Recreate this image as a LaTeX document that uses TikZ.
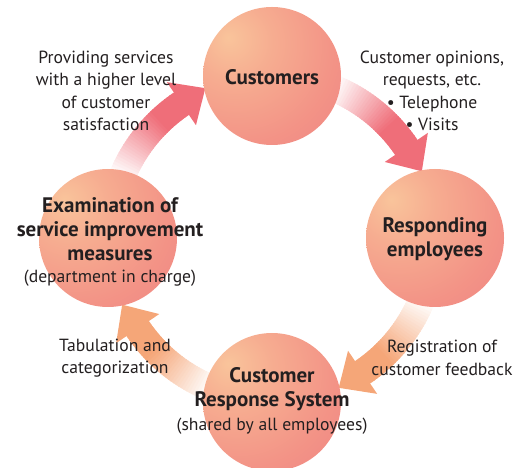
\documentclass[tikz,border=0pt]{standalone}
\usepackage{fontspec}
\setmainfont{PT Sans}
\usetikzlibrary{calc}
\definecolor{peach}{HTML}{F9C49B}
\definecolor{midc}{HTML}{F49A88}
\definecolor{edgec}{HTML}{EE7880}
\definecolor{arrpink}{HTML}{EF6E79}
\definecolor{arrorange}{HTML}{F5A678}
\definecolor{txt}{HTML}{231F20}
\pgfdeclareradialshading{nodeball}{\pgfpoint{-16bp}{14bp}}{color(0bp)=(peach); color(14bp)=(peach!45!midc); color(34bp)=(midc!80!edgec); color(62bp)=(edgec); color(120bp)=(edgec)}
\newcommand{\cyclearrow}[2]{%
  \foreach \t in {0,...,35}{%
    \pgfmathsetmacro\pp{min(100,max(0,(\t-2)*4.2))}%
    \draw[line width=27pt, color=#2!\pp!white] (C) ++(#1-\t:162pt) arc[start angle=#1-\t, end angle=#1-\t-1.4, radius=162pt];
  }%
  \fill[#2] ($(C)+(#1-36:136pt)$) -- ($(C)+(#1-36:188pt)$) -- ($(C)+(#1-46:164pt)$) -- cycle;
}
\begin{document}
\begin{tikzpicture}[x=1pt,y=1pt,
  ball/.style={circle, minimum size=138pt, inner sep=0pt, shading=nodeball},
  lbl/.style={text=txt, align=center, inner sep=0pt, font=\fontsize{17.6}{22.5}\selectfont},
  ttl/.style={text=txt, align=center, inner sep=0pt, font=\bfseries\fontsize{21}{23.8}\selectfont}]
\useasboundingbox (0,0) rectangle (519,468);
\coordinate (C) at (272,230);
% arrows
\cyclearrow{70}{arrpink}
\cyclearrow{-20}{arrorange}
\cyclearrow{-110}{arrorange}
\cyclearrow{160}{arrpink}
% circles
\node[ball] (cust) at (272,392) {};
\node[ball] (resp) at (435,230) {};
\node[ball] (crs) at (272,66) {};
\node[ball] (exam) at (108,230) {};
% titles
\node[ttl] (custT) at (272,391) {Customers};
\node[ttl] (respT) at (435,229) {Responding\\employees};
\node[ttl] (examT) at (110,239) {Examination of\\service improvement\\measures};
\node[lbl] (examS) at (110,190) {(department in charge)};
\node[ttl] (crsT) at (272,79) {Customer\\Response System};
\node[lbl] (crsS) at (272,42) {(shared by all employees)};
% labels
\node[lbl] (l1) at (106,377) {Providing services\\with a higher level\\of customer\\satisfaction};
\node[lbl] (l2) at (432,377) {Customer opinions,\\requests, etc.\\\textbullet\ Telephone\\\textbullet\ Visits};
\node[lbl] (l3) at (115,110) {Tabulation and\\categorization};
\node[lbl] (l4) at (442,110) {Registration of\\customer feedback};
\end{tikzpicture}
\end{document}
